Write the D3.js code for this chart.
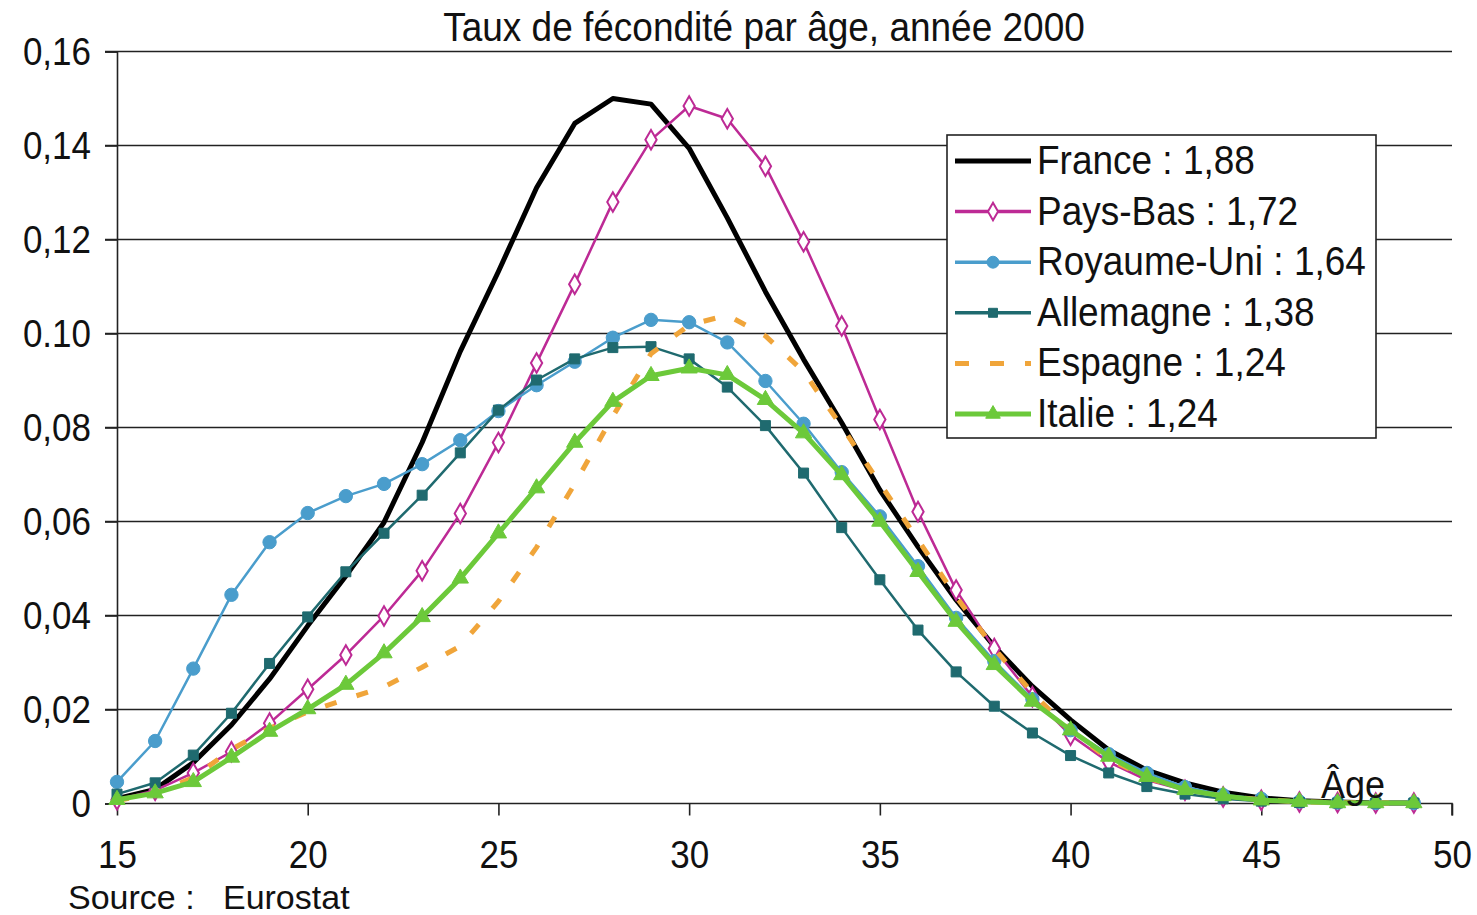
<!DOCTYPE html>
<html lang="fr">
<head>
    <meta charset="UTF-8">
    <title>Taux de fécondité par âge, année 2000</title>
    <script src="https://d3js.org/d3.v7.min.js"></script>
    <style>
        body { margin: 0; background: #fff; }
        svg text { font-family: "Liberation Sans", Arial, sans-serif; fill: #111; }
        .grid line { stroke: #222; stroke-width: 1.6; }
    </style>
</head>
<body>
<svg id="chart" width="1477" height="915"></svg>
<script>
    // ages (x categories)
    const ages = [15,16,17,18,19,20,21,22,23,24,25,26,27,28,29,30,31,32,33,34,35,36,37,38,39,40,41,42,43,44,45,46,47,48,49];

    const france     = [0.001,0.003,0.0087,0.0167,0.0265,0.0378,0.0484,0.0598,0.0768,0.0962,0.1132,0.131,0.1447,0.15,0.1488,0.1394,0.1246,0.1089,0.0945,0.081,0.0667,0.0546,0.0433,0.0334,0.0249,0.0178,0.0114,0.0071,0.0044,0.0024,0.0012,0.0006,0.0003,0.0001,0.0001];
    const paysBas    = [0.0008,0.0028,0.0065,0.011,0.0171,0.0243,0.0316,0.0399,0.0495,0.0617,0.0768,0.0937,0.1105,0.128,0.1412,0.1484,0.1457,0.1356,0.1195,0.1016,0.0817,0.0621,0.0454,0.033,0.0227,0.0145,0.0088,0.005,0.0028,0.0014,0.0007,0.0003,0.0002,0.0001,0.0001];
    const royaumeUni = [0.0046,0.0133,0.0287,0.0444,0.0556,0.0618,0.0654,0.068,0.0722,0.0773,0.0835,0.089,0.094,0.0991,0.1029,0.1024,0.0981,0.0899,0.0808,0.0705,0.0611,0.0505,0.0395,0.0303,0.0222,0.0156,0.0105,0.0065,0.0035,0.0018,0.001,0.0004,0.0002,0.0001,0.0001];
    const allemagne  = [0.002,0.0044,0.0103,0.0192,0.0298,0.0397,0.0493,0.0575,0.0656,0.0746,0.0837,0.0901,0.0946,0.097,0.0972,0.0946,0.0886,0.0804,0.0703,0.0587,0.0476,0.0369,0.028,0.0207,0.015,0.0102,0.0065,0.0036,0.002,0.001,0.0005,0.0002,0.0001,0.0001,0.0001];
    const espagne    = [0.0006,0.0022,0.0055,0.0115,0.016,0.0195,0.0222,0.0248,0.029,0.0335,0.043,0.0545,0.068,0.0824,0.0957,0.1018,0.1039,0.0995,0.0919,0.0802,0.0681,0.0561,0.044,0.033,0.0235,0.0155,0.0095,0.0055,0.003,0.0016,0.0008,0.0004,0.0002,0.0001,0.0001];
    const italie     = [0.0008,0.0022,0.0046,0.0098,0.0153,0.0201,0.0253,0.032,0.0397,0.0479,0.0575,0.0671,0.0768,0.0855,0.091,0.0926,0.0912,0.0859,0.0788,0.0699,0.06,0.0493,0.0387,0.0295,0.0217,0.0156,0.01,0.0057,0.0029,0.0016,0.0007,0.0004,0.0001,0.0001,0.0001];

    const seriesNames = ["France : 1,88", "Pays-Bas : 1,72", "Royaume-Uni : 1,64", "Allemagne : 1,38", "Espagne : 1,24", "Italie : 1,24"];

    const xTicks = [15,20,25,30,35,40,45,50];
    const yTicks = [0,0.02,0.04,0.06,0.08,0.10,0.12,0.14,0.16];
    const yTickLabels = ["0","0,02","0,04","0,06","0,08","0.10","0,12","0,14","0,16"];

    const series = [
        {name: seriesNames[0], values: france,     color: "#000000", width: 5,   marker: null},
        {name: seriesNames[1], values: paysBas,    color: "#bd2a95", width: 2.5, marker: "diamond"},
        {name: seriesNames[2], values: royaumeUni, color: "#4a9dcc", width: 2.5, marker: "circle"},
        {name: seriesNames[3], values: allemagne,  color: "#1f6a6f", width: 2.5, marker: "square"},
        {name: seriesNames[4], values: espagne,    color: "#f0a53a", width: 5,   marker: null, dash: "12,21"},
        {name: seriesNames[5], values: italie,     color: "#6cc93a", width: 5,   marker: "triangle"}
    ];

    const svg = d3.select("#chart");
    const plotLeft = 117, plotRight = 1452, plotTop = 51.5, plotBottom = 803.5;

    const x = d3.scaleLinear().domain([15, 50]).range([plotLeft, plotRight]);
    const y = d3.scaleLinear().domain([0, 0.16]).range([plotBottom, plotTop]);

    // text in the source is a bit taller than wide
    const stretch = 1.1;

    // horizontal gridlines (extend over the tick marks on the left)
    svg.append("g").attr("class", "grid")
        .selectAll("line")
        .data(yTicks.slice(1))
        .join("line")
        .attr("x1", plotLeft - 12).attr("x2", plotRight)
        .attr("y1", d => y(d)).attr("y2", d => y(d));

    // y axis
    const yAxis = svg.append("g")
        .attr("transform", `translate(${plotLeft},0)`)
        .call(d3.axisLeft(y).tickValues(yTicks).tickSize(12).tickPadding(14)
            .tickFormat((d, i) => yTickLabels[i]));
    yAxis.select(".domain").attr("stroke", "#222").attr("stroke-width", 1.6);
    yAxis.selectAll(".tick line").attr("stroke", "#222").attr("stroke-width", 1.6);
    yAxis.selectAll("text").style("font-size", "35px").attr("dy", "0.34em")
        .attr("transform", `scale(1,${stretch})`)
        .attr("y", 0);

    // x axis
    const xAxis = svg.append("g")
        .attr("transform", `translate(0,${plotBottom})`)
        .call(d3.axisBottom(x).tickValues(xTicks).tickSize(12).tickPadding(14));
    xAxis.select(".domain").attr("stroke", "#222").attr("stroke-width", 1.6)
        .attr("d", `M${plotLeft},0H${plotRight}V12`);
    xAxis.selectAll(".tick line").attr("stroke", "#222").attr("stroke-width", 1.6);
    xAxis.selectAll("text").style("font-size", "35px")
        .attr("dy", "0")
        .attr("y", 65 / stretch)
        .attr("transform", `scale(1,${stretch})`);

    // lines
    const line = d3.line()
        .x((d, i) => x(ages[i]))
        .y(d => y(d));

    const symbolType = {
        diamond: d3.symbolDiamond, circle: d3.symbolCircle,
        square: d3.symbolSquare, triangle: d3.symbolTriangle
    };
    const symbolSize = {diamond: 110, circle: 140, square: 100, triangle: 115};

    series.forEach(s => {
        svg.append("path")
            .datum(s.values)
            .attr("fill", "none")
            .attr("stroke", s.color)
            .attr("stroke-width", s.width)
            .attr("stroke-linejoin", "round")
            .attr("stroke-dasharray", s.dash || null)
            .attr("d", line);

        if (s.marker) {
            svg.append("g")
                .selectAll("path")
                .data(s.values)
                .join("path")
                .attr("transform", (d, i) => `translate(${x(ages[i])},${y(d)})`)
                .attr("d", d3.symbol().type(symbolType[s.marker]).size(symbolSize[s.marker]))
                .attr("fill", s.marker === "diamond" ? "#fff" : s.color)
                .attr("stroke", s.color)
                .attr("stroke-width", s.marker === "diamond" ? 2 : 1);
        }
    });

    // legend
    const legend = svg.append("g");
    legend.append("rect")
        .attr("x", 947).attr("y", 135).attr("width", 429).attr("height", 303)
        .attr("fill", "#fff").attr("stroke", "#222").attr("stroke-width", 1.6);

    series.forEach((s, i) => {
        const cy = 161 + i * 50.6;
        const g = legend.append("g");
        g.append("line")
            .attr("x1", 955).attr("x2", 1031)
            .attr("y1", cy).attr("y2", cy)
            .attr("stroke", s.color)
            .attr("stroke-width", s.width === 5 ? 5 : 3.5)
            .attr("stroke-dasharray", s.dash ? "14,21" : null);
        if (s.marker) {
            g.append("path")
                .attr("transform", `translate(993,${cy})`)
                .attr("d", d3.symbol().type(symbolType[s.marker]).size(symbolSize[s.marker] * 0.8))
                .attr("fill", s.marker === "diamond" ? "#fff" : s.color)
                .attr("stroke", s.color)
                .attr("stroke-width", s.marker === "diamond" ? 2 : 1);
        }
        g.append("text")
            .attr("transform", `translate(1037,${cy + 13}) scale(1,${stretch})`)
            .style("font-size", "37px")
            .text(s.name);
    });

    // title, axis label, source
    svg.append("text")
        .attr("transform", `translate(764,41) scale(1,${stretch})`)
        .attr("text-anchor", "middle")
        .style("font-size", "37px")
        .text("Taux de fécondité par âge, année 2000");

    svg.append("text")
        .attr("transform", `translate(1321,798) scale(1,${stretch})`)
        .style("font-size", "36px")
        .text("Âge");

    svg.append("text")
        .attr("transform", `translate(68,909)`)
        .style("font-size", "34px")
        .style("white-space", "pre")
        .text("Source :   Eurostat");
</script>
</body>
</html>
